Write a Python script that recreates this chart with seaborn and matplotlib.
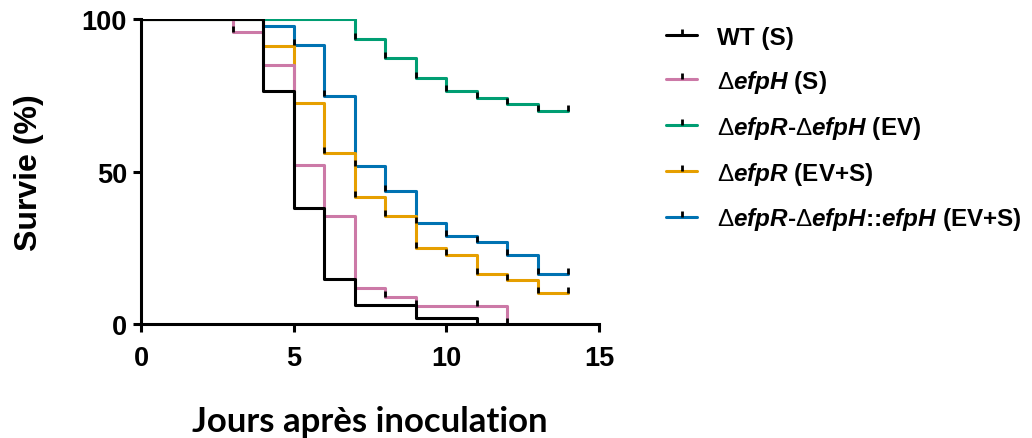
import pandas as pd
import matplotlib.pyplot as plt
import seaborn as sns
from matplotlib.lines import Line2D

# jours / survie (%)
groupes = ["WT (S)", "efpH (S)", "efpR-efpH (EV)", "efpR (EV+S)", "efpR-efpH::efpH (EV+S)"]

jours_wt = [0, 4, 5, 6, 7, 9, 11]
survie_wt = [100, 76.5, 37.9, 14.8, 6.2, 1.9, 0]

jours_efph = [0, 3, 4, 5, 6, 7, 8, 9, 11, 12]
survie_efph = [100, 95.6, 85.0, 52.2, 35.5, 11.8, 8.9, 5.9, 5.9, 0]

jours_double = [0, 7, 8, 9, 10, 11, 12, 13, 14]
survie_double = [100, 93.4, 87.1, 80.8, 76.5, 74.1, 72.1, 70.0, 70.0]

jours_efpr = [0, 4, 5, 6, 7, 8, 9, 10, 11, 12, 13, 14]
survie_efpr = [100, 91.3, 72.5, 56.1, 41.5, 35.3, 24.8, 22.6, 16.3, 14.3, 10.2, 10.2]

jours_compl = [0, 4, 5, 6, 7, 8, 9, 10, 11, 12, 13, 14]
survie_compl = [100, 97.8, 91.5, 74.6, 51.9, 43.6, 33.1, 29.0, 27.0, 22.6, 16.3, 16.3]

couleurs = ["black", "#CC79A7", "#009E73", "#E69F00", "#0072B2"]

labels = [
    "WT (S)",
    r"$\Delta\mathbfit{efpH}$ (S)",
    r"$\Delta\mathbfit{efpR}$-$\Delta\mathbfit{efpH}$ (EV)",
    r"$\Delta\mathbfit{efpR}$ (EV+S)",
    r"$\Delta\mathbfit{efpR}$-$\Delta\mathbfit{efpH}$::$\mathbfit{efpH}$ (EV+S)",
]

series = [
    (jours_wt, survie_wt),
    (jours_efph, survie_efph),
    (jours_double, survie_double),
    (jours_efpr, survie_efpr),
    (jours_compl, survie_compl),
]

frames = []
for nom, (j, s) in zip(groupes, series):
    frames.append(pd.DataFrame({"jour": j, "survie": s, "groupe": nom}))
df = pd.concat(frames, ignore_index=True)

sns.set_style("ticks")
plt.rcParams["font.family"] = ["Liberation Sans", "DejaVu Sans"]
plt.rcParams["mathtext.fontset"] = "custom"
plt.rcParams["mathtext.rm"] = "Liberation Sans"
plt.rcParams["mathtext.it"] = "Liberation Sans:italic"
plt.rcParams["mathtext.bf"] = "Liberation Sans:bold"
plt.rcParams["mathtext.bfit"] = "Liberation Sans:bold:italic"
for k in ["text.color", "axes.labelcolor", "xtick.color", "ytick.color", "axes.edgecolor"]:
    plt.rcParams[k] = "black"

fig = plt.figure(figsize=(10.32, 4.39), dpi=100)
ax = fig.add_axes([0.1366, 0.2597, 0.5804 - 0.1366, 0.9544 - 0.2597])

palette = dict(zip(groupes, couleurs))
ordre = [groupes[4], groupes[3], groupes[2], groupes[1], groupes[0]]
sns.lineplot(
    data=df, x="jour", y="survie", hue="groupe", hue_order=ordre,
    palette=palette, drawstyle="steps-post", estimator=None,
    linewidth=2.2, legend=False, ax=ax,
)

# petites marques noires (censures)
for nom in ordre:
    sub = df[df["groupe"] == nom]
    ax.plot(sub["jour"].values[1:], sub["survie"].values[1:], ls="none",
            marker=2, ms=4.5, mec="black", mew=2.0, zorder=5)

ax.set_xlim(0, 15)
ax.set_ylim(0, 100)
ax.set_xticks([0, 5, 10, 15])
ax.set_yticks([0, 50, 100])
for sp in ["top", "right"]:
    ax.spines[sp].set_visible(False)
for sp in ["left", "bottom"]:
    ax.spines[sp].set_linewidth(2.2)
ax.tick_params(width=2.2, length=6, labelsize=19.5)
ax.tick_params(axis="x", pad=9)
ax.tick_params(axis="y", pad=4)
for t in ax.get_xticklabels() + ax.get_yticklabels():
    t.set_fontweight("bold")

ax.set_ylabel("Survie (%)", fontsize=23, fontweight="bold")
ax.yaxis.set_label_coords(-0.212, 0.5)
ax.set_xlabel("Jours après inoculation", fontsize=25, fontweight="bold", family="Lato")
ax.xaxis.set_label_coords(0.5, -0.266)

handles = [
    Line2D([], [], color=c, lw=2.2, marker=2, ms=4.5, mec="black", mew=2.0)
    for c in couleurs
]
fig.legend(handles, labels, loc="upper left", bbox_to_anchor=(0.634, 0.967),
           frameon=False, borderpad=0, handlelength=1.25, handletextpad=0.85,
           labelspacing=0.78, prop={"weight": "bold", "size": 17.5})

fig.savefig("out.png", dpi=100)
